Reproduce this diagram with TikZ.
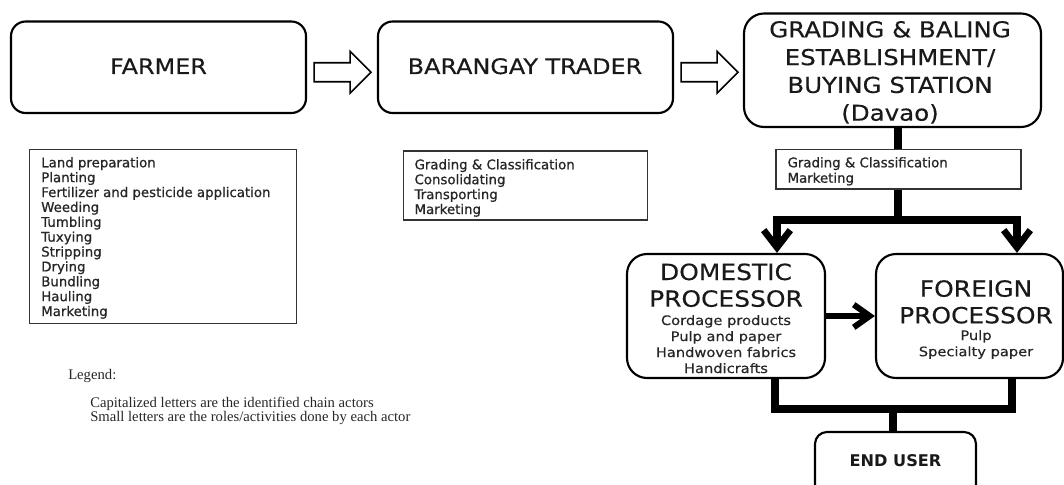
\documentclass[tikz,border=0pt]{standalone}
\usepackage{fontspec}
\setmainfont{DejaVu Sans}
\newfontfamily\wf[FakeStretch=1.12,FakeBold=0.4]{DejaVu Sans}
\newfontfamily\lf[FakeBold=0.8]{DejaVu Sans}
\newfontfamily\legf{Liberation Serif}
\usetikzlibrary{arrows.meta,calc,fit}
\begin{document}
\begin{tikzpicture}[x=0.75pt,y=-0.75pt,
  actor/.style={draw=black, line width=1.6pt, rounded corners=11pt, inner sep=0pt},
  lst/.style={draw=black!80, line width=1pt, inner sep=0pt},
  blk/.style={draw=black, line width=1.2pt, fill=white, line join=miter},
  thk/.style={line width=6pt, line join=miter},
  txt/.style={inner sep=0pt, anchor=base, text=black!90},
  ltxt/.style={inner sep=0pt, anchor=base west, text=black!85, font=\lf\fontsize{10}{12}\selectfont},
  hd/.style={txt, font=\wf\fontsize{16}{19}\selectfont},
  gd/.style={txt, font=\wf\fontsize{16.4}{19}\selectfont},
  pd/.style={txt, font=\wf\fontsize{16.7}{19}\selectfont},
  pi/.style={txt, font=\wf\fontsize{9.8}{12}\selectfont, text=black!85},
  lg/.style={inner sep=0pt, anchor=base west, text=black!85, font=\legf\fontsize{11}{12}\selectfont},
  barb/.style={-{Straight Barb[length=13pt,width=20pt,line width=5pt]}}
]
\useasboundingbox (0,0) rectangle (1064,485);
\clip (0,0) rectangle (1064,485);

% actor boxes
\node[actor, fit={(11,21.5)(306,113)}] (farmer) {};
\node[actor, fit={(378,21.5)(673,113)}] (trader) {};
\node[actor, rounded corners=15pt, fit={(744,13.5)(1041,127)}] (gbe) {};
\node[actor, rounded corners=15pt, fit={(627,254)(825,378)}] (dom) {};
\node[actor, rounded corners=15pt, fit={(876,254)(1063,378)}] (for) {};
\node[actor, rounded corners=9pt, fit={(815,432)(976,500)}] (eu) {};

% activity boxes
\node[lst, fit={(29.5,149.5)(296.5,323.5)}] (flist) {};
\node[lst, fit={(403.5,151)(647.5,220)}] (tlist) {};
\node[lst, fill=white, fit={(776,149.5)(1021,189)}] (glist) {};

% actor texts
\node[hd] (tfarmer) at (158.5,74) {FARMER};
\node[hd] (ttrader) at (525,74) {BARANGAY TRADER};
\node[gd] (g1) at (890,37.3) {GRADING \& BALING};
\node[gd] (g2) at (890,65.1) {ESTABLISHMENT/};
\node[gd] (g3) at (890,92.9) {BUYING STATION};
\node[gd] (g4) at (890,120.7) {(Davao)};
\node[pd] (d1) at (726,280) {DOMESTIC};
\node[pd] (d2) at (726,306.7) {PROCESSOR};
\node[pi] (d3) at (726,325) {Cordage products};
\node[pi] (d4) at (726,341) {Pulp and paper};
\node[pi] (d5) at (726,357) {Handwoven fabrics};
\node[pi] (d6) at (726,373) {Handicrafts};
\node[pd] (f1) at (976,296.7) {FOREIGN};
\node[pd] (f2) at (976,323.3) {PROCESSOR};
\node[pi] (f3) at (976,340) {Pulp};
\node[pi] (f4) at (976,356.2) {Specialty paper};
\node[txt, font=\bfseries\fontsize{12.1}{14}\selectfont] (teu) at (895.5,466.7) {END USER};

% activity lists
\foreach \t [count=\i from 0] in {Land preparation, Planting, Fertilizer and pesticide application, Weeding, Tumbling, Tuxying, Stripping, Drying, Bundling, Hauling, Marketing}
  \node[ltxt] (fa\i) at (41,167.3+14.87*\i) {\t};
\foreach \t [count=\i from 0] in {Grading \& Classification, Consolidating, Transporting, Marketing}
  \node[ltxt] (tr\i) at (414.3,169.3+14.9*\i) {\t};
\node[ltxt] (gl0) at (787.3,167.3) {Grading \& Classification};
\node[ltxt] (gl1) at (787.3,182.7) {Marketing};

% legend
\node[lg] (leg) at (68,379.3) {Legend:};
\node[lg] (leg1) at (90,407.3) {Capitalized letters are the identified chain actors};
\node[lg] (leg2) at (90,421) {Small letters are the roles/activities done by each actor};

% hollow block arrows
\coordinate (a1s) at ($(farmer.east)+(7,5)$);
\coordinate (a2s) at ($(trader.east)+(7,5)$);
\foreach \s in {a1s,a2s}
  \draw[blk] (\s) ++(0,-9.5) -- ++(36,0) -- ++(0,-11.5) -- ++(21,21) -- ++(-21,21) -- ++(0,-11.5) -- ++(-36,0) -- cycle;

% thick connectors
\coordinate (j1) at (897.5,220);
\coordinate (dIn) at (777,254);
\coordinate (fIn) at (1017,254);
\draw[thk] (gbe.south -| j1) -- (glist.north -| j1);
\draw[thk] (glist.south -| j1) -- (j1);
\draw[thk, barb] (j1) -| (dom.north -| dIn);
\draw[thk, barb] (j1) -| (for.north -| fIn);
\draw[line width=5pt, -{Straight Barb[length=12pt,width=17pt,line width=4.5pt]}] (dom.east) -- (for.west);

\coordinate (j2L) at (775,408.5);
\coordinate (j2R) at (1011.5,408.5);
\coordinate (j2) at (893,408.5);
\draw[thk] (dom.south -| j2L) -- (j2L) -- (j2R) -- (for.south -| j2R);
\draw[thk] (j2) -- (eu.north -| j2);
\end{tikzpicture}
\end{document}
